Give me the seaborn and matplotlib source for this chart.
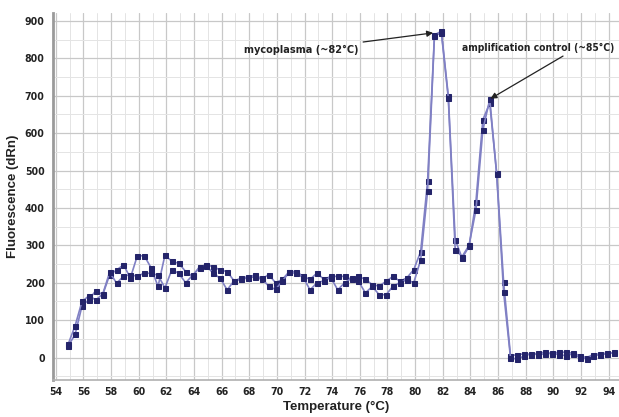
import numpy as np
import pandas as pd
import matplotlib
matplotlib.use("Agg")
import matplotlib.pyplot as plt
import seaborn as sns
from matplotlib.ticker import MultipleLocator

temperature = [54.9, 55.4, 55.9, 56.4, 56.9, 57.4, 57.9, 58.4, 58.9, 59.4,
               59.9, 60.4, 60.9, 61.4, 61.9, 62.4, 62.9, 63.4, 63.9, 64.4,
               64.9, 65.4, 65.9, 66.4, 66.9, 67.4, 67.9, 68.4, 68.9, 69.4,
               69.9, 70.4, 70.9, 71.4, 71.9, 72.4, 72.9, 73.4, 73.9, 74.4,
               74.9, 75.4, 75.9, 76.4, 76.9, 77.4, 77.9, 78.4, 78.9, 79.4,
               79.9, 80.4, 80.9, 81.4, 81.9, 82.4, 82.9, 83.4, 83.9, 84.4,
               84.9, 85.4, 85.9, 86.4, 86.9, 87.4, 87.9, 88.4, 88.9, 89.4,
               89.9, 90.4, 90.9, 91.4, 91.9, 92.4, 92.9, 93.4, 93.9, 94.4]

replicate_a = [31, 62, 138, 155, 179, 168, 221, 234, 248, 213,
               272, 272, 240, 190, 274, 257, 252, 230, 217, 243,
               248, 243, 234, 230, 205, 209, 213, 216, 209, 222,
               200, 209, 230, 230, 217, 209, 226, 209, 217, 217,
               217, 209, 217, 209, 195, 191, 204, 217, 204, 213,
               235, 283, 471, 863, 872, 700, 315, 266, 297, 417,
               636, 680, 493, 203, 5, 8, 10, 8, 12, 14,
               10, 15, 14, 12, 5, 0, 8, 10, 12, 12]

replicate_b = [36, 85, 150, 165, 154, 170, 228, 199, 217, 222,
               217, 226, 225, 220, 186, 235, 225, 200, 220, 240,
               245, 225, 212, 181, 205, 212, 216, 220, 212, 191,
               182, 205, 228, 225, 214, 181, 200, 205, 214, 181,
               200, 212, 204, 173, 190, 168, 168, 191, 200, 208,
               200, 261, 444, 860, 868, 694, 288, 270, 300, 395,
               609, 690, 490, 176, 0, -5, 5, 10, 8, 10,
               12, 8, 5, 10, 0, -3, 5, 8, 10, 14]

x_ticks = list(range(54, 95, 2))
y_ticks = list(range(0, 901, 100))

df = pd.DataFrame({
    "Temperature": temperature * 2,
    "Fluorescence": replicate_a + replicate_b,
    "rep": ["A"] * len(temperature) + ["B"] * len(temperature),
})

sns.set_style("white")
plt.rcParams["font.family"] = ["Liberation Sans", "DejaVu Sans"]

fig = plt.figure(figsize=(6.19, 4.17), dpi=100)
ax = fig.add_axes([0.0856, 0.0887, 0.9144, 0.880])

line_col = "#8080c4"
mark_col = "#24246a"
sns.lineplot(data=df, x="Temperature", y="Fluorescence", hue="rep",
             units="rep", estimator=None, sort=False,
             palette={"A": line_col, "B": line_col}, legend=False,
             marker="s", markersize=3.6, markerfacecolor=mark_col,
             markeredgecolor=mark_col, linewidth=1.2, ax=ax, zorder=3)

ax.set_xlim(53.8, 94.75)
ax.set_ylim(-60, 921)
ax.set_xticks(x_ticks)
ax.set_yticks(y_ticks)
ax.xaxis.set_minor_locator(MultipleLocator(1))
ax.yaxis.set_minor_locator(MultipleLocator(50))
ax.grid(True, which="major", color="#c8c8c8", linewidth=0.9)
ax.grid(True, which="minor", color="#e4e4e4", linewidth=0.7)
ax.set_axisbelow(True)

for s in ["top", "right"]:
    ax.spines[s].set_visible(False)
ax.spines["left"].set_color("#9a9a9a")
ax.spines["left"].set_linewidth(2.0)
ax.spines["bottom"].set_color("#b0b0b0")
ax.spines["bottom"].set_linewidth(1.2)

ax.tick_params(axis="both", which="both", length=3, color="#888888", direction="out")
ax.tick_params(axis="x", which="major", pad=2)
ax.tick_params(axis="y", which="major", pad=3)
tick_font = dict(family=["DejaVu Sans"], stretch="condensed", weight="bold", size=7.6)
ax.set_xticklabels([str(t) for t in x_ticks], **tick_font)
ax.set_yticklabels([str(t) for t in y_ticks], **tick_font)
for lab in ax.get_xticklabels() + ax.get_yticklabels():
    lab.set_color("#222222")

ax.set_xlabel("Temperature (°C)", fontsize=9.5, fontweight="bold", color="#222222", labelpad=3)
ax.set_ylabel("Fluorescence (dRn)", fontsize=9.5, fontweight="bold", color="#222222", labelpad=4)

ann_font = dict(family=["DejaVu Sans"], stretch="condensed", weight="bold", size=7.8, color="#222222")
ax.annotate("mycoplasma (~82°C)", xy=(81.3, 868), xytext=(75.9, 822),
            ha="right", va="center", annotation_clip=False,
            arrowprops=dict(arrowstyle="-|>", color="#222222", lw=0.9, shrinkA=1, shrinkB=0,
                            mutation_scale=9),
            **ann_font)
amp_font = dict(ann_font, size=7.4)
ax.text(83.4, 828, "amplification control (~85°C)", ha="left", va="center", clip_on=False, **amp_font)
ax.annotate("", xy=(85.45, 692), xytext=(90.7, 806), annotation_clip=False,
            arrowprops=dict(arrowstyle="-|>", color="#222222", lw=0.9, shrinkA=0, shrinkB=0,
                            mutation_scale=9))

fig.savefig("out.png", dpi=100)
